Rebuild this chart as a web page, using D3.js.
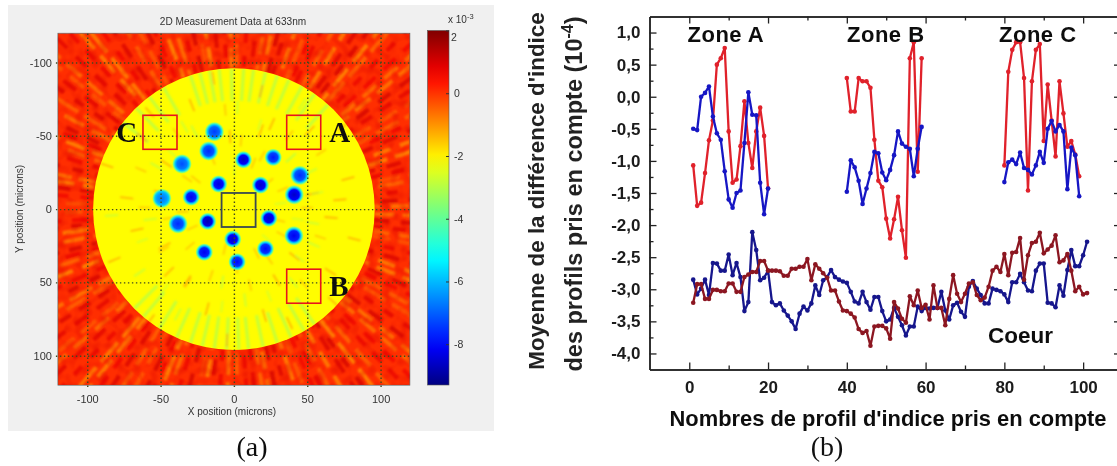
<!DOCTYPE html>
<html><head><meta charset="utf-8">
<script src="https://cdn.jsdelivr.net/npm/d3@7/dist/d3.min.js"></script>
<style>html,body{margin:0;padding:0;background:#fff}svg{display:block}text{font-family:"Liberation Sans",Arial,sans-serif}</style>
</head><body><svg id="c" width="1117" height="466"></svg>
<script>
// ---------- panel (b) data ----------
const zoneAX=d3.range(1,21), zoneBX=d3.range(40,60), zoneCX=d3.range(80,100), coreX=d3.range(1,102);
const zoneARed=[-1.07,-1.70,-1.65,-1.19,-0.68,-0.37,0.50,0.60,0.76,-0.54,-1.34,-1.29,-0.77,-0.07,-0.72,-1.11,-0.54,-0.17,-0.61,-1.43];
const zoneABlue=[-0.50,-0.52,0.0,0.06,0.16,-0.31,-0.57,-0.67,-1.16,-1.60,-1.73,-1.50,-1.46,-0.72,0.07,-0.28,-0.29,-1.34,-1.83,-1.43];
const zoneBRed=[0.29,-0.23,-0.23,0.29,0.24,0.24,0.14,-0.67,-1.31,-1.41,-1.90,-2.21,-1.91,-1.56,-2.08,-2.51,0.60,0.85,-1.17,0.60];
const zoneBBlue=[-1.48,-0.99,-1.10,-1.31,-1.67,-1.43,-1.19,-0.86,-0.88,-1.18,-1.30,-1.14,-0.91,-0.54,-0.73,-0.78,-0.81,-1.24,-0.81,-0.47];
const zoneCRed=[-1.07,0.39,0.73,0.85,0.85,0.29,-1.46,0.24,0.73,0.82,-0.69,0.19,-0.37,-0.93,0.24,-0.26,-0.78,-0.69,-0.90,-1.24];
const zoneCBlue=[-1.33,-1.02,-0.98,-1.05,-0.87,-1.11,-1.14,-1.21,-1.07,-0.86,-1.03,-0.50,-0.38,-0.54,-0.44,-0.54,-1.44,-0.79,-0.91,-1.55];
const coreNavy=[-2.85,-3.08,-2.99,-2.85,-3.09,-2.59,-2.60,-2.71,-2.71,-2.46,-2.78,-2.59,-2.81,-3.34,-3.20,-2.11,-2.39,-2.86,-2.82,-2.71,
-3.20,-3.25,-3.22,-3.33,-3.41,-3.50,-3.62,-3.38,-3.27,-3.33,-3.22,-2.94,-3.09,-2.86,-2.81,-2.70,-2.81,-2.85,-2.88,-2.90,
-3.04,-3.19,-3.22,-3.04,-3.20,-3.32,-3.12,-3.12,-3.34,-3.50,-3.47,-3.29,-3.43,-3.56,-3.72,-3.58,-3.58,-3.27,-3.34,-3.29,
-3.30,-3.29,-3.29,-3.04,-3.33,-3.47,-3.25,-3.21,-3.35,-3.43,-2.96,-2.87,-2.99,-3.09,-3.22,-3.22,-2.99,-3.01,-3.03,-3.08,
-3.20,-2.89,-2.89,-2.76,-2.89,-3.02,-3.03,-2.71,-2.60,-2.60,-3.21,-3.22,-3.28,-2.94,-3.10,-2.70,-2.39,-2.64,-2.64,-2.47,-2.26];
const coreMaroon=[-3.21,-2.92,-2.92,-3.15,-3.15,-3.01,-3.01,-3.03,-3.03,-2.91,-2.91,-3.04,-3.04,-2.81,-2.77,-2.73,-2.73,-2.56,-2.56,-2.71,
-2.71,-2.71,-2.72,-2.79,-2.79,-2.68,-2.68,-2.65,-2.65,-2.53,-2.86,-2.61,-2.68,-2.75,-2.82,-3.02,-3.02,-3.19,-3.33,-3.34,
-3.38,-3.44,-3.62,-3.68,-3.65,-3.88,-3.58,-3.57,-3.57,-3.61,-3.77,-3.20,-3.30,-3.46,-3.52,-3.11,-3.25,-3.02,-3.29,-3.24,
-3.47,-2.94,-3.29,-3.29,-3.56,-3.15,-2.78,-3.07,-3.20,-3.07,-2.91,-2.89,-3.09,-3.17,-3.13,-2.96,-2.71,-2.65,-2.73,-2.45,
-2.78,-2.43,-2.42,-2.20,-2.85,-2.47,-2.28,-2.26,-2.12,-2.44,-2.38,-2.32,-2.16,-2.58,-2.55,-2.45,-2.71,-3.03,-2.96,-3.08,-3.06];
const yTicksB=[1,0.5,0,-0.5,-1,-1.5,-2,-2.5,-3,-3.5,-4];
const xTicksB=[0,20,40,60,80,100];
// ---------- panel (a) data ----------
const micronTicks=[-100,-50,0,50,100];
const colorbarTicks=[2,0,-2,-4,-6,-8];
const spotX=[-13.3,-17.2,-35.4,-49.1,-29.1,-10.4,6.5,26.8,45,18.1,41.1,23.8,-17.9,-38.1,-0.8,40.9,21.5,-20.2,2.2];
const spotY=[-52.8,-39.6,-30.8,-7.3,-8.2,-17.1,-33.7,-35.3,-23,-16.4,-9.8,6.2,8.4,10,20.5,18.2,27.1,29.4,36];
const spotValue=[-7.4,-7.6,-7.2,-6.8,-8.2,-8.4,-8.6,-7.8,-7.6,-8.6,-8.6,-8.6,-8.8,-7.6,-8.6,-8.2,-8,-8.2,-8];
const ringAngles=[2,7,11,17,22,26,31,37,41,46,52,56,62,66,71,77,81,86,92,97,101,107,112,116,122,127,131,137,141,147,151,156,162,166,172,176,182,187,191,197,202,206,212,217,221,227,231,236,242,246,252,257,261,267,271,277,282,286,292,296,302,307,311,317,321,326,332,336,342,347,351,357];
const ringValues=[-0.9,0.9,-0.4,1.0,-1,0.7,-0.5,1.1,-0.8,0.8,-1.1,1.0,-0.6,0.7,-1,1.1,-0.7,0.8,-0.9,1.0,-0.4,0.8,-1.1,1.1,-0.6,0.7,-1,0.9,-0.5,1.0,-0.9,0.8,-0.7,1.1,-1,0.7,-0.5,1.0,-0.9,0.8,-1.1,1.1,-0.6,0.9,-0.8,0.8,-1,1.0,-0.5,0.7,-0.8,1.1,-1.1,0.8,-0.6,0.9,-0.9,1.0,-0.5,0.8,-1,1.1,-0.7,0.7,-0.9,0.9,-0.6,1.0,-1.1,0.8,-0.7,1.1];
const ringAnglesFine=[4.5,9,14,19.5,24,28.5,34,39,43.5,49,54,59,64,68.5,74,79,83.5,89,94.5,99,104,109.5,114,119,124.5,129,134,139,144,149,153.5,159,164,169,174,179,184.5,189,194,199.5,204,209,214.5,219,224,229,233.5,239,244,249,254.5,259,264,269,274,279.5,284,289,294,299,304.5,309,314,319,323.5,329,334,339,344.5,349,354,359];
const rimAngles=[252,256,260,264,269,274,278,283,288,293,299,305,240,233,226,84,88,93,98,103,108,114,78,72,66,60,122,130,55,135,218,312];
const innerAngles=[5,14,24,33,43,51,64,74,83,93,105,118,127,136,146,157,168,177,186,199,209,218,229,239,248,261,272,283,294,303,314,323,334,345,355,10,38,59,99,123,152,173,193,214,243,267,289,318,349];
const innerRadii=[62,80,55,74,88,60,82,71,58,85,66,77,90,57,73,84,63,79,69,87,56,75,83,61,72,86,65,78,59,81,70,89,54,76,68,50,48,52,46,54,49,53,47,51,55,45,52,48,50];
const redBoxX=[-62,36,36], redBoxY=[-64,-64,41];
const regionLabels=["C","A","B"];

const svg=d3.select("#c");
const defs=svg.append("defs");
const soft=defs.append("filter").attr("id","soft").attr("x","-5%").attr("y","-5%").attr("width","110%").attr("height","110%");
soft.append("feGaussianBlur").attr("stdDeviation",0.4);
const mapBlur=defs.append("filter").attr("id","mapBlur");
mapBlur.append("feGaussianBlur").attr("stdDeviation",1.1);
const noise=defs.append("filter").attr("id","noise").attr("x",0).attr("y",0).attr("width","100%").attr("height","100%");
noise.append("feTurbulence").attr("type","fractalNoise").attr("baseFrequency","0.12").attr("numOctaves",1).attr("seed",4);
noise.append("feColorMatrix").attr("values","0 0 0 0 0.7  0 0 0 0 0  0 0 0 0 0  2.6 0 0 0 -1.15");

// ----------- panel (a) -----------
svg.append("rect").attr("x",8).attr("y",5).attr("width",486).attr("height",426).attr("fill","#f0f0f0");
const mx=d3.scaleLinear().domain([-120,120]).range([57.9,409.9]);
const my=d3.scaleLinear().domain([-120,120]).range([33.2,385]);
const pxPerMicron=mx(1)-mx(0);
const jetT=d3.scaleLinear().domain([-9.3,2]).range([0,1]);
const jetRamp=d3.scaleLinear().domain([0,.11,.36,.5,.635,.87,1]).range(["#000080","#0000ff","#00ffff","#7dff7a","#ffff00","#ff0000","#800000"]);
const jet=v=>jetRamp(jetT(v));
defs.append("clipPath").attr("id","mapClip").append("rect").attr("x",mx(-120)).attr("y",my(-120)).attr("width",mx(120)-mx(-120)).attr("height",my(120)-my(-120));
const R=96;
defs.append("clipPath").attr("id","discClip").append("circle").attr("cx",mx(0)).attr("cy",my(0)).attr("r",R*pxPerMicron);
const m=svg.append("g").attr("clip-path","url(#mapClip)");
m.append("rect").attr("x",mx(-120)).attr("y",my(-120)).attr("width",mx(120)-mx(-120)).attr("height",my(120)-my(-120)).attr("fill",jet(0.05));
const pol=(r,a)=>[mx(r*Math.cos(a*Math.PI/180)),my(r*Math.sin(a*Math.PI/180))];
const ringG=m.append("g").attr("filter","url(#mapBlur)");
const streaks=(angles,vals,cls,dashes,off)=>ringG.selectAll("line."+cls).data(angles).join("line").attr("class",cls)
 .attr("x1",a=>pol(R,a)[0]).attr("y1",a=>pol(R,a)[1]).attr("x2",a=>pol(175,a)[0]).attr("y2",a=>pol(175,a)[1])
 .attr("stroke",(a,i)=>jet(vals[i])).attr("stroke-width",4.2).attr("stroke-opacity",.7)
 .attr("stroke-dasharray",(a,i)=>dashes[i%dashes.length]).attr("stroke-dashoffset",(a,i)=>i*off);
streaks(ringAngles,ringValues,"s1",["20 8","13 10","26 7","16 11"],3.7);
streaks(ringAnglesFine,ringValues.slice().reverse(),"s2",["15 12","22 9","11 13","18 10"],5.3);
m.append("rect").attr("x",mx(-120)).attr("y",my(-120)).attr("width",352).attr("height",352).attr("filter","url(#noise)").attr("opacity",.4);
// disc
m.append("circle").attr("cx",mx(0)).attr("cy",my(0)).attr("r",R*pxPerMicron).attr("fill",jet(-2.1));
const discG=m.append("g").attr("clip-path","url(#discClip)").append("g").attr("filter","url(#mapBlur)");
discG.selectAll("line.rim").data(rimAngles).join("line").attr("class","rim")
 .attr("x1",a=>pol(74,a)[0]).attr("y1",a=>pol(74,a)[1]).attr("x2",a=>pol(R,a)[0]).attr("y2",a=>pol(R,a)[1])
 .attr("stroke",jet(-3.3)).attr("stroke-width",3).attr("stroke-opacity",.6);
discG.selectAll("line.inner").data(innerAngles).join("line").attr("class","inner")
 .attr("x1",(a,i)=>pol(innerRadii[i],a)[0]).attr("y1",(a,i)=>pol(innerRadii[i],a)[1])
 .attr("x2",(a,i)=>pol(innerRadii[i]+9,a)[0]).attr("y2",(a,i)=>pol(innerRadii[i]+9,a)[1])
 .attr("stroke",(a,i)=>i%3==2?jet(-3):jet(-1.1)).attr("stroke-width",1.8).attr("stroke-opacity",.7);
discG.selectAll("line.inner2").data(innerAngles).join("line").attr("class","inner2")
 .attr("x1",(a,i)=>pol(innerRadii[i]-22,a+4)[0]).attr("y1",(a,i)=>pol(innerRadii[i]-22,a+4)[1])
 .attr("x2",(a,i)=>pol(innerRadii[i]-14,a+4)[0]).attr("y2",(a,i)=>pol(innerRadii[i]-14,a+4)[1])
 .attr("stroke",(a,i)=>i%3==0?jet(-3):jet(-1.2)).attr("stroke-width",1.8).attr("stroke-opacity",.55);
// spots
const spots=d3.range(spotX.length);
spots.forEach(i=>{
 const g=defs.append("radialGradient").attr("id","sp"+i);
 [[0,spotValue[i],1],[.5,spotValue[i]+.5,1],[.7,-5.8,1],[.86,-4.4,.7],[1,-3.2,0]].forEach(s=>g.append("stop").attr("offset",s[0]).attr("stop-color",jet(s[1])).attr("stop-opacity",s[2]));
});
m.selectAll("circle.spot").data(spots).join("circle").attr("class","spot")
 .attr("cx",i=>mx(spotX[i])).attr("cy",i=>my(spotY[i])).attr("r",i=>Math.abs(spotX[i])>30||spotY[i]<-38?10:9).attr("fill",i=>`url(#sp${i})`);
// grid + axes of map
const hyphen=d=>String(d).replace("−","-");
const gridStyle=g=>{g.select(".domain").remove();g.selectAll(".tick line").attr("stroke","#3f4a20").attr("stroke-width",1.4).attr("stroke-dasharray","1.4 2.6");
 g.selectAll("text").attr("fill","#333").attr("font-size",11).attr("filter","url(#soft)");};
svg.append("g").attr("transform",`translate(0,${my(120)+2})`).call(d3.axisBottom(mx).tickValues(micronTicks).tickSize(-355).tickPadding(8).tickFormat(hyphen)).call(gridStyle);
svg.append("g").attr("transform",`translate(${mx(-120)-2},0)`).call(d3.axisLeft(my).tickValues(micronTicks).tickSize(-356).tickPadding(4).tickFormat(hyphen)).call(gridStyle);
svg.append("rect").attr("x",mx(-120)).attr("y",my(-120)).attr("width",352).attr("height",352).attr("fill","none").attr("stroke","#555").attr("stroke-width",.6);
const tA=(x,y,s,fs,extra={})=>{const t=svg.append("text").attr("x",x).attr("y",y).text(s).attr("font-size",fs).attr("fill","#333").attr("text-anchor","middle").attr("filter","url(#soft)");Object.entries(extra).forEach(([k,v])=>t.attr(k,v));return t;};
tA(233,25,"2D Measurement Data at 633nm",10.1);
tA(232,415,"X position (microns)",10);
tA(0,0,"Y position (microns)",10,{transform:"translate(23,209) rotate(-90)"});
// boxes
const boxSize=23.2;
svg.selectAll("rect.red").data(redBoxX).join("rect").attr("class","red")
 .attr("x",d=>mx(d)).attr("y",(d,i)=>my(redBoxY[i])).attr("width",boxSize*pxPerMicron).attr("height",boxSize*pxPerMicron)
 .attr("fill","none").attr("stroke","#e8141c").attr("stroke-width",1.6);
svg.append("rect").attr("x",mx(-8.4)).attr("y",my(-11)).attr("width",boxSize*pxPerMicron).attr("height",boxSize*pxPerMicron).attr("fill","none").attr("stroke","#3a4a50").attr("stroke-width",1.8);
const labelPos=[[-66,-46],[65,-46],[65,59]];
svg.selectAll("text.reg").data(regionLabels).join("text").attr("class","reg")
 .attr("x",(d,i)=>mx(labelPos[i][0])).attr("y",(d,i)=>my(labelPos[i][1])).text(d=>d)
 .attr("text-anchor",(d,i)=>i==0?"end":"start").attr("font-size",29).attr("font-weight","bold").style("font-family","'Liberation Serif',serif").attr("fill","#111").attr("filter","url(#soft)");
// colorbar
const cby=d3.scaleLinear().domain([-9.3,2]).range([385,30.5]);
const grad=defs.append("linearGradient").attr("id","jet").attr("x1",0).attr("x2",0).attr("y1",1).attr("y2",0);
d3.range(0,1.0001,.05).forEach(t=>grad.append("stop").attr("offset",t).attr("stop-color",jet(-9.3+t*11.3)));
svg.append("rect").attr("x",427.5).attr("y",30.5).attr("width",21.5).attr("height",354.5).attr("fill","url(#jet)").attr("stroke","#555").attr("stroke-width",.6);
const cbAxis=svg.append("g").attr("transform","translate(449,0)").call(d3.axisRight(cby).tickValues(colorbarTicks).tickSize(-3).tickPadding(5).tickFormat(d=>d<0?"-"+(-d):d));
cbAxis.select(".domain").remove();
cbAxis.selectAll("line").attr("stroke","#333");
cbAxis.selectAll("text").attr("font-size",10.5).attr("fill","#333").attr("filter","url(#soft)");
cbAxis.selectAll(".tick").filter(d=>d===2).select("text").attr("dy","0.95em").attr("x",2);
const cbExp=tA(448,23,"x 10",10,{"text-anchor":"start"});
cbExp.append("tspan").text("-3").attr("dy",-4).attr("font-size",7.5);
tA(252,456,"(a)",28).style("font-family","'Liberation Serif',serif").attr("fill","#111");

// ----------- panel (b) -----------
const x=d3.scaleLinear().domain([-10.1,108.6]).range([649.5,1117]);
const y=d3.scaleLinear().domain([-4.25,1.25]).range([369.5,16.5]);
const b=svg.append("g").attr("filter","url(#soft)");
const minorX=d3.range(10,101,20), minorY=d3.range(-3.75,1.25,.5);
const tick=(g)=>{g.select(".domain").attr("stroke","#222").attr("stroke-width",1.5);g.selectAll("line").attr("stroke","#222").attr("stroke-width",1.3);
 g.selectAll("text").attr("font-size",17).attr("font-weight","bold").attr("fill","#1a1a1a");};
const bFmt=d=>d3.format(".1f")(d).replace(".",",").replace("−","-");
b.append("g").attr("transform",`translate(0,${y.range()[0]})`).call(d3.axisBottom(x).tickValues(xTicksB).tickSize(-7).tickSizeOuter(0).tickPadding(11)).call(tick);
b.append("g").attr("transform",`translate(0,${y.range()[0]})`).call(d3.axisBottom(x).tickValues(minorX).tickSize(-4).tickSizeOuter(0).tickFormat("")).call(tick);
b.append("g").attr("transform",`translate(0,${y.range()[1]})`).call(d3.axisTop(x).tickValues(xTicksB).tickSize(-7).tickSizeOuter(0).tickFormat("")).call(tick);
b.append("g").attr("transform",`translate(0,${y.range()[1]})`).call(d3.axisTop(x).tickValues(minorX).tickSize(-4).tickSizeOuter(0).tickFormat("")).call(tick);
b.append("g").attr("transform",`translate(${x.range()[0]},0)`).call(d3.axisLeft(y).tickValues(yTicksB).tickSize(-7).tickSizeOuter(0).tickPadding(9).tickFormat(bFmt)).call(tick);
b.append("g").attr("transform",`translate(${x.range()[0]},0)`).call(d3.axisLeft(y).tickValues(minorY).tickSize(-4).tickSizeOuter(0).tickFormat("")).call(tick);
const rightAx=b.append("g").attr("transform","translate(1117,0)").call(d3.axisRight(y).tickValues(yTicksB).tickSize(-3).tickFormat("")).call(tick);
rightAx.select(".domain").remove();
const series=[
 [zoneAX,zoneARed,"#e0202c"],[zoneAX,zoneABlue,"#1616c4"],
 [zoneBX,zoneBRed,"#e0202c"],[zoneBX,zoneBBlue,"#1616c4"],
 [zoneCX,zoneCRed,"#e0202c"],[zoneCX,zoneCBlue,"#1616c4"],
 [coreX,coreNavy,"#14148c"],[coreX,coreMaroon,"#8c1620"]];
const line=d3.line().x(d=>x(d[0])).y(d=>y(d[1]));
series.forEach(([xs,vs,col])=>{
 const pts=xs.map((v,i)=>[v,vs[i]]);
 const g=b.append("g");
 g.append("path").attr("d",line(pts)).attr("fill","none").attr("stroke",col).attr("stroke-width",2.3).attr("stroke-linejoin","round");
 g.selectAll("circle").data(pts).join("circle").attr("cx",d=>x(d[0])).attr("cy",d=>y(d[1])).attr("r",2.3).attr("fill",col);
});
const bt=(px,py,s,fs,anchor="start")=>b.append("text").attr("x",px).attr("y",py).text(s).attr("font-size",fs).attr("font-weight","bold").attr("fill","#111").attr("text-anchor",anchor);
bt(687.5,42,"Zone A",22).attr("letter-spacing",.5);bt(847,42,"Zone B",22).attr("letter-spacing",.5);bt(999,42,"Zone C",22).attr("letter-spacing",.5);bt(988,342.5,"Coeur",22.5);
bt(888,426,"Nombres de profil d'indice pris en compte",21.9,"middle");
b.append("text").attr("transform","translate(544,191) rotate(-90)").attr("text-anchor","middle").attr("font-size",22.4).attr("font-weight","bold").attr("fill","#222").text("Moyenne de la différence d'indice");
const yl2=b.append("text").attr("transform","translate(582,194) rotate(-90)").attr("text-anchor","middle").attr("font-size",23.5).attr("font-weight","bold").attr("fill","#222").text("des profils pris en compte (10");
yl2.append("tspan").text("-4").attr("dy",-9).attr("font-size",16);
yl2.append("tspan").text(")").attr("dy",9);
svg.append("text").attr("x",827).attr("y",456).attr("text-anchor","middle").attr("font-size",28).style("font-family","'Liberation Serif',serif").attr("fill","#111").text("(b)");
</script></body></html>
